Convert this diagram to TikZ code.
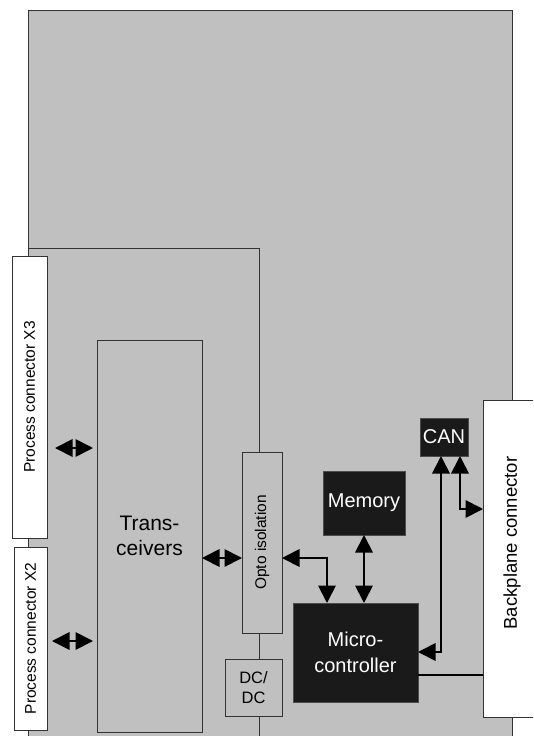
\documentclass[tikz,border=0pt]{standalone}
\usepackage{fontspec}
\setmainfont{Liberation Sans}
\usetikzlibrary{calc,arrows.meta}
\definecolor{panel}{HTML}{C0C0C0}
\definecolor{edge}{HTML}{333333}
\definecolor{dark}{HTML}{1A1A1A}
\tikzset{
  gbox/.style={draw=edge, fill=panel, line width=1pt, inner sep=0pt, outer sep=0pt},
  wbox/.style={draw=edge, fill=white, line width=1pt, inner sep=0pt, outer sep=0pt},
  kbox/.style={draw=black!70, fill=dark, line width=1pt, inner sep=0pt, outer sep=0pt, text=white},
  conn/.style={draw=black, line width=1.8pt},
  dbl/.style={conn, {Triangle[length=17.5pt,width=17.5pt]}-{Triangle[length=17.5pt,width=17.5pt]}},
  lbl/.style={inner sep=0pt, align=center}
}
\begin{document}
\begin{tikzpicture}[x=1pt,y=-1pt]
\useasboundingbox (0,0) rectangle (533,736);
\clip (0,0) rectangle (533,736);
% board
\node[gbox, minimum width=484, minimum height=740] (board) at (270,380) {};
% isolated area boundary
\draw[draw=edge, line width=1pt] (board.west|-0,248) -- (259,248) -- (259,750);
% process connectors
\node[wbox, minimum width=35, minimum height=282] (X3) at (29.5,397) {};
\node[lbl, rotate=90, font=\fontsize{15.5}{18}\selectfont] at (X3) {Process connector X3};
\node[wbox, minimum width=33, minimum height=183] (X2) at (30.5,638.5) {};
\node[lbl, rotate=90, font=\fontsize{15.5}{18}\selectfont] at (X2) {Process connector X2};
% transceivers
\node[gbox, minimum width=105, minimum height=392, font=\fontsize{21}{25}\selectfont, align=center] (trans) at (149.5,536) {Trans-\\ceivers};
% opto isolation
\node[gbox, minimum width=40, minimum height=181] (opto) at (262,542.5) {};
\node[lbl, rotate=90, font=\fontsize{15.5}{18}\selectfont] at (opto) {Opto isolation};
% DC/DC
\node[gbox, minimum width=57, minimum height=57, font=\fontsize{16.5}{20}\selectfont, align=center] (dcdc) at (253.5,687.5) {DC/\\DC};
% micro-controller
\node[kbox, minimum width=125, minimum height=99, font=\fontsize{20}{25.5}\selectfont, align=center] (micro) at (355.5,652.5) {Micro-\\controller};
% memory
\node[kbox, minimum width=82, minimum height=64, font=\fontsize{20}{24}\selectfont] (memory) at (364,503) {Memory};
% CAN
\node[kbox, minimum width=48, minimum height=38, font=\fontsize{20}{24}\selectfont] (CAN) at (444,437) {CAN};
% backplane connector
\node[wbox, minimum width=57, minimum height=317] (bp) at (511.5,558.5) {};
\node[lbl, rotate=90, font=\fontsize{18.5}{22}\selectfont] at (512,543) {Backplane connector};
% connectors
\draw[dbl] ($(X3.east|-0,448)+(8,0)$) -- ($(trans.west|-0,448)+(-4,0)$);
\draw[dbl] ($(X2.east|-0,641)+(5,0)$) -- ($(trans.west|-0,641)+(-4,0)$);
\draw[dbl] (trans.east|-0,558) -- (opto.west|-0,558);
\draw[dbl] (opto.east|-0,558) -| ($(micro.north west)+(34,0)$);
\draw[dbl] (memory.south) -- (memory.south|-micro.north);
\draw[dbl] ($(CAN.south west)+(21,0)$) |- (micro.east|-0,652);
\draw[dbl] ($(CAN.south west)+(40,0)$) |- (bp.west|-0,509);
\draw[conn] (micro.east|-0,675) -- (bp.west|-0,675);
\end{tikzpicture}
\end{document}
